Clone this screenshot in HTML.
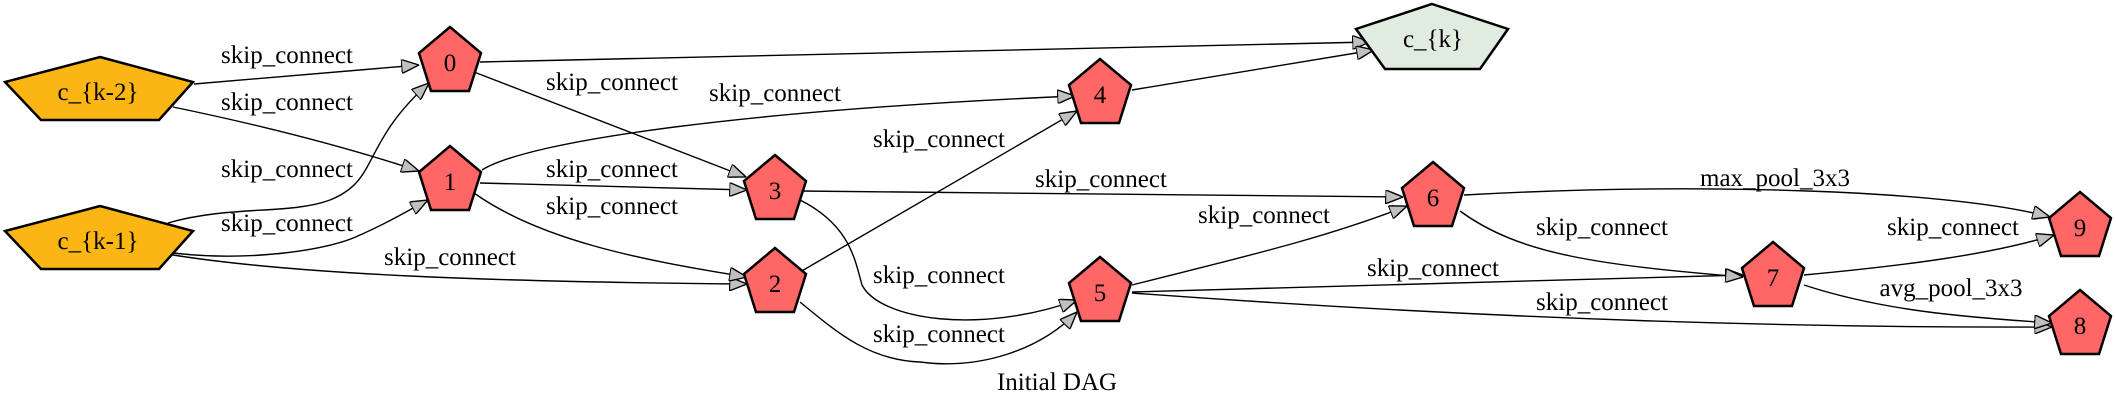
<!DOCTYPE html>
<html><head><meta charset="utf-8"><style>
html,body{margin:0;padding:0;background:#fff;}
svg{display:block;}
text{font-family:"Liberation Serif",serif;}
</style></head><body>
<svg width="2116" height="410" viewBox="0 0 2116 410" xmlns="http://www.w3.org/2000/svg">
<defs>
<marker id="a" viewBox="0 0 10 8" refX="10" refY="4" markerWidth="18" markerHeight="14" markerUnits="userSpaceOnUse" orient="auto">
<path d="M0,0 L10,4 L0,8 Z" fill="#c0c0c0" stroke="#000" stroke-width="0.8"/>
</marker>
</defs>
<g fill="none" stroke="#000" stroke-width="1.4" marker-end="url(#a)">
<path d="M194,84 L419,65"/>
<path d="M173,107 C260,125 340,145 419,171"/>
<path d="M168,223 C230,205 290,215 330,200 C380,180 360,145 429,83"/>
<path d="M173,253 C250,262 330,250 360,235 C390,222 405,212 428,200"/>
<path d="M173,255 C300,275 500,282 747,284"/>
<path d="M480,62 L1370,42"/>
<path d="M474,72 L746,177"/>
<path d="M482,170 C530,140 750,110 1075,96"/>
<path d="M480,183 L747,190"/>
<path d="M474,193 C540,240 640,260 747,277"/>
<path d="M1132,90 L1374,50"/>
<path d="M800,272 L1077,111"/>
<path d="M800,191 L1403,197"/>
<path d="M800,200 C850,225 855,260 862,285 C880,320 980,335 1077,300"/>
<path d="M800,302 C840,335 870,360 920,362 C980,370 1040,350 1077,312"/>
<path d="M1132,285 C1230,260 1320,240 1407,206"/>
<path d="M1132,292 L1743,275"/>
<path d="M1132,293 C1500,320 1800,328 2052,327"/>
<path d="M1464,195 C1700,182 1950,190 2050,217"/>
<path d="M1460,211 C1520,255 1600,265 1743,277"/>
<path d="M1804,275 C1900,266 1990,255 2054,235"/>
<path d="M1804,285 C1880,310 1960,317 2052,323"/>
</g>
<g stroke="#000" stroke-width="2.5">
<polygon points="100,57 193,82 159,120 41,120 5,82" fill="#fbb614"/>
<polygon points="100,206 193,231 159,269 41,269 5,231" fill="#fbb614"/>
<polygon points="1432,4 1508,29 1480,69 1385,69 1356,29" fill="#e0ecdf"/>
<g fill="#ff6666">
<polygon points="450,27 481,53 469,91 431,91 419,53"/>
<polygon points="450,146 481,172 469,210 431,210 419,172"/>
<polygon points="775,155 806,181 794,219 756,219 744,181"/>
<polygon points="775,248 806,274 794,312 756,312 744,274"/>
<polygon points="1100,59 1131,85 1119,123 1081,123 1069,85"/>
<polygon points="1100,257 1131,283 1119,321 1081,321 1069,283"/>
<polygon points="1433,162 1464,188 1452,226 1414,226 1402,188"/>
<polygon points="1773,242 1804,268 1792,306 1754,306 1742,268"/>
<polygon points="2080,192 2111,218 2099,256 2061,256 2049,218"/>
<polygon points="2080,290 2111,316 2099,354 2061,354 2049,316"/>
</g>
</g>
<g font-size="25" text-anchor="middle" fill="#000">
<text x="98" y="100">c_{k-2}</text>
<text x="98" y="249">c_{k-1}</text>
<text x="1433" y="47">c_{k}</text>
<text x="450" y="71">0</text>
<text x="450" y="190">1</text>
<text x="775" y="199">3</text>
<text x="775" y="292">2</text>
<text x="1100" y="103">4</text>
<text x="1100" y="301">5</text>
<text x="1433" y="206">6</text>
<text x="1773" y="286">7</text>
<text x="2080" y="236">9</text>
<text x="2080" y="334">8</text>
<text x="287" y="63">skip_connect</text>
<text x="287" y="110">skip_connect</text>
<text x="287" y="177">skip_connect</text>
<text x="287" y="231">skip_connect</text>
<text x="450" y="265">skip_connect</text>
<text x="612" y="90">skip_connect</text>
<text x="775" y="101">skip_connect</text>
<text x="612" y="177">skip_connect</text>
<text x="612" y="214">skip_connect</text>
<text x="939" y="147">skip_connect</text>
<text x="1101" y="187">skip_connect</text>
<text x="939" y="283">skip_connect</text>
<text x="939" y="342">skip_connect</text>
<text x="1264" y="223">skip_connect</text>
<text x="1433" y="276">skip_connect</text>
<text x="1602" y="310">skip_connect</text>
<text x="1775" y="186">max_pool_3x3</text>
<text x="1602" y="235">skip_connect</text>
<text x="1953" y="235">skip_connect</text>
<text x="1951" y="296">avg_pool_3x3</text>
<text x="1057" y="390">Initial DAG</text>
</g>
</svg>
</body></html>
